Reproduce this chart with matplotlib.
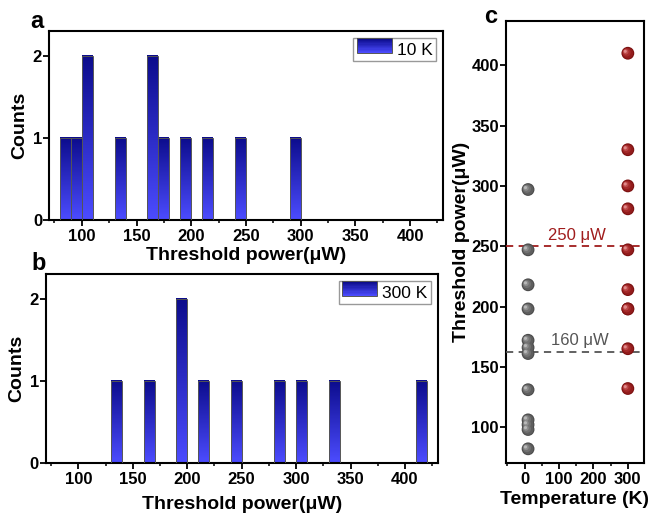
import numpy as np
import matplotlib
matplotlib.use("Agg")
import matplotlib.pyplot as plt
from matplotlib.patches import Rectangle
from matplotlib.legend_handler import HandlerBase
from matplotlib.colors import LinearSegmentedColormap
from matplotlib.ticker import MultipleLocator

plt.rcParams['font.family'] = ['Liberation Sans', 'DejaVu Sans']

# threshold powers (uW)
power_10K = [82, 98, 102, 106, 131, 161, 166, 172, 198, 218, 247, 297]
power_300K = [132, 165, 198, 198, 214, 247, 281, 300, 330, 410]
temp_10K = 10
temp_300K = 300
bin_edges = np.arange(70, 440, 10)
line_300K = 250
line_10K = 162

blue_cmap = LinearSegmentedColormap.from_list("bars", ["#4c4cff", "#0c0c8c"])


def gradient_hist(ax, values, label, xpad):
    counts, edges = np.histogram(values, bins=bin_edges)
    grad = np.linspace(0, 1, 100).reshape(-1, 1)
    for c, x0, x1 in zip(counts, edges[:-1], edges[1:]):
        if c == 0:
            continue
        ax.imshow(grad, cmap=blue_cmap, origin="lower", aspect="auto",
                  extent=(x0, x1, 0, c), zorder=2)
        ax.add_patch(Rectangle((x0, 0), x1 - x0, c, fill=False,
                               edgecolor="#555555", lw=0.7, zorder=3))
    proxy = Rectangle((0, 0), 1, 1, label=label)
    ax.set_xlim(70, 430)
    ax.set_ylim(0, 2.3)
    ax.set_yticks([0, 1, 2])
    ax.xaxis.set_major_locator(MultipleLocator(50))
    ax.xaxis.set_minor_locator(MultipleLocator(25))
    ax.set_xlabel("Threshold power(μW)", fontsize=14, fontweight="bold", labelpad=xpad)
    ax.set_ylabel("Counts", fontsize=14, fontweight="bold", labelpad=3)
    return proxy


class GradHandler(HandlerBase):
    def create_artists(self, legend, orig_handle, xd, yd, w, h, fontsize, trans):
        arts = []
        n = 12
        for i in range(n):
            r = Rectangle((xd, yd + h * i / n), w, h / n + 0.2,
                          facecolor=blue_cmap(i / (n - 1)), edgecolor="none",
                          transform=trans)
            arts.append(r)
        arts.append(Rectangle((xd, yd), w, h, fill=False, edgecolor="#555555",
                              lw=0.7, transform=trans))
        return arts


def style(ax):
    for s in ax.spines.values():
        s.set_linewidth(1.5)
    ax.tick_params(which="major", direction="out", length=4, width=1.3,
                   labelsize=12)
    ax.tick_params(axis="x", which="major", pad=2.5)
    ax.tick_params(axis="y", which="major", pad=1)
    ax.tick_params(which="minor", direction="out", length=2.5, width=1.1)
    for t in ax.get_xticklabels() + ax.get_yticklabels():
        t.set_fontweight("bold")


fig = plt.figure(figsize=(6.5, 5.13), dpi=100)
ax_a = fig.add_axes([0.0754, 0.5712, 0.606, 0.3684])
ax_b = fig.add_axes([0.0703, 0.0969, 0.603, 0.369])
ax_c = fig.add_axes([0.778, 0.0969, 0.2128, 0.8628])

for ax, vals, lab, xpad in [(ax_a, power_10K, "10 K", 2), (ax_b, power_300K, "300 K", 6)]:
    proxy = gradient_hist(ax, vals, lab, xpad)
    ax.legend(handles=[proxy], handler_map={Rectangle: GradHandler()},
              loc="upper right", fontsize=12.5, fancybox=False, framealpha=1,
              edgecolor="#999999", handlelength=2.0, handleheight=0.95,
              handletextpad=0.3, borderpad=0.2, borderaxespad=0.4)
    style(ax)


def spheres(ax, x, y, base, shades):
    xs = [x] * len(y)
    ax.scatter(xs, y, s=85, color=base, edgecolor="none", zorder=4)
    offs = [(0, 0, 60), (-1.2, 0.8, 35), (-2.0, 1.4, 15), (-2.6, 1.9, 5)]
    for (dx, dy, s), col in zip(offs, shades):
        ax.scatter(np.array(xs) + dx * 2.9, np.array(y) + dy * 0.83, s=s,
                   color=col, edgecolor="none", zorder=5)


spheres(ax_c, temp_10K, power_10K, "#4a4a4a", ["#5e5e5e", "#727272", "#8e8e8e", "#b8b8b8"])
spheres(ax_c, temp_300K, power_300K, "#7a1010", ["#931c1c", "#a52a2a", "#bd4a4a", "#e08a8a"])

ax_c.axhline(line_300K, color="#a01c1c", ls=(0, (4, 3)), lw=1.3, zorder=3)
ax_c.axhline(line_10K, color="#555555", ls=(0, (4, 3)), lw=1.3, zorder=3)
ax_c.text(152, 253, "250 μW", color="#a01c1c", fontsize=12, ha="center", va="bottom")
ax_c.text(162, 166, "160 μW", color="#555555", fontsize=12, ha="center", va="bottom")
ax_c.set_xlim(-55, 347)
ax_c.set_ylim(70, 437)
ax_c.set_xticks([0, 100, 200, 300])
ax_c.xaxis.set_minor_locator(MultipleLocator(50))
ax_c.set_yticks([100, 150, 200, 250, 300, 350, 400])
ax_c.set_xlabel("Temperature (K)", fontsize=14, fontweight="bold", labelpad=3)
ax_c.set_ylabel("Threshold power(μW)", fontsize=14, fontweight="bold", labelpad=1)
style(ax_c)

fig.text(0.057, 0.958, "a", fontsize=17, fontweight="bold", ha="center", va="center")
fig.text(0.060, 0.487, "b", fontsize=17, fontweight="bold", ha="center", va="center")
fig.text(0.755, 0.967, "c", fontsize=17, fontweight="bold", ha="center", va="center")

fig.savefig("out.png", dpi=100)
